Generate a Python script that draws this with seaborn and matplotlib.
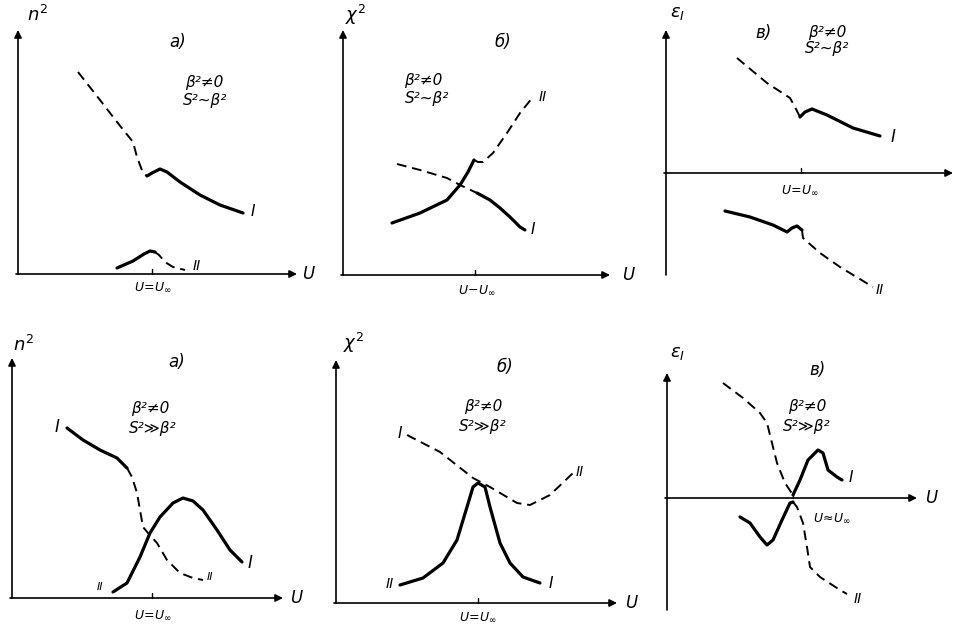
import numpy as np
import pandas as pd
import matplotlib
matplotlib.use("Agg")
import matplotlib.pyplot as plt
import seaborn as sns

sns.set_theme(style="white")
plt.rcParams['font.family'] = ['DejaVu Sans']
plt.rcParams['mathtext.fontset'] = 'dejavusans'
plt.rcParams['text.color'] = 'black'

W, H = 962, 631

# ---------------- data (U axis, value axis; arbitrary schematic units) ----------------
# Panel a) top : n^2, beta^2 != 0, S^2 ~ beta^2
p1_I_dash_u = [60, 82, 99, 115, 119, 125, 129]
p1_I_dash_v = [202, 174, 152, 132, 117, 101, 98]
p1_I_sol_u = [129, 134, 142, 149, 162, 182, 202, 225]
p1_I_sol_v = [98, 101, 105, 102, 92, 79, 69, 61]
p1_II_sol_u = [99, 115, 126, 132, 137]
p1_II_sol_v = [6, 13, 20, 23, 22]
p1_II_dash_u = [137, 141, 147, 155, 167]
p1_II_dash_v = [22, 19, 12, 7, 4]

# Panel б) top : chi^2
p2_I_dash_u = [54, 77, 104, 117, 134]
p2_I_dash_v = [111, 105, 97, 90, 82]
p2_I_sol_u = [134, 147, 157, 167, 177, 182]
p2_I_sol_v = [82, 75, 67, 58, 48, 45]
p2_II_sol_u = [49, 77, 104, 117, 125, 131]
p2_II_sol_v = [52, 62, 75, 90, 103, 115]
p2_II_dash_u = [131, 135, 140, 150, 164, 177, 190]
p2_II_dash_v = [115, 113, 113, 122, 142, 162, 178]

# Panel в) top : eps_I
p3_I_dash_u = [71, 101, 124, 129, 134]
p3_I_dash_v = [115, 90, 75, 66, 56]
p3_I_sol_u = [134, 139, 146, 161, 187, 214]
p3_I_sol_v = [56, 61, 64, 58, 45, 37]
p3_II_sol_u = [59, 84, 107, 121, 126, 131, 136]
p3_II_sol_v = [-38, -44, -52, -59, -55, -53, -57]
p3_II_dash_u = [136, 137, 154, 174, 207]
p3_II_dash_v = [-57, -65, -80, -94, -114]

# Panel a) bottom : n^2, S^2 >> beta^2
p4_A_sol_u = [55, 71, 88, 105, 115]
p4_A_sol_v = [170, 158, 148, 140, 130]
p4_A_dash_u = [115, 120, 125, 128, 131, 136, 145, 155, 168, 181, 191]
p4_A_dash_v = [130, 121, 105, 88, 71, 65, 55, 38, 25, 20, 18]
p4_B_sol_u = [101, 115, 128, 138, 148, 161, 171, 181, 191, 205, 218, 230]
p4_B_sol_v = [6, 15, 41, 65, 81, 95, 100, 97, 88, 68, 48, 36]

# Panel б) bottom : chi^2
p5_A_dash_u = [71, 104, 137, 154, 181, 194, 214, 237]
p5_A_dash_v = [168, 151, 125, 116, 100, 98, 108, 130]
p5_B_sol_u = [64, 87, 107, 121, 131, 137, 142, 149, 154, 164, 174, 187, 204]
p5_B_sol_v = [18, 25, 40, 63, 96, 116, 120, 116, 96, 60, 40, 26, 20]

# Panel в) bottom : eps_I
p6_A_dash_u = [56, 76, 93, 100, 105, 110, 118, 126]
p6_A_dash_v = [115, 100, 85, 75, 55, 35, 15, 3]
p6_A_sol_u = [126, 133, 141, 151, 156, 161, 170, 175]
p6_A_sol_v = [3, 18, 38, 48, 45, 28, 21, 18]
p6_B_sol_u = [73, 83, 93, 100, 106, 115, 123, 126]
p6_B_sol_v = [-19, -25, -39, -47, -42, -22, -5, -4]
p6_B_dash_u = [126, 130, 136, 140, 143, 153, 173, 180]
p6_B_dash_v = [-4, -9, -25, -49, -69, -79, -92, -96]

panel_letters = ["a)", "б)", "в)", "a)", "б)", "в)"]
y_labels = [r"$n^2$", r"$\chi^2$", r"$\varepsilon_{I}$", r"$n^2$", r"$\chi^2$", r"$\varepsilon_{I}$"]
cond_top = ["β²≠0", "β²≠0", "β²≠0", "β²≠0", "β²≠0", "β²≠0"]
cond_bot = ["S²~β²", "S²~β²", "S²~β²", "S²≫β²", "S²≫β²", "S²≫β²"]
tick_labels = [r"$U\!=\!U_{\infty}$", r"$U\!-\!U_{\infty}$", r"$U\!=\!U_{\infty}$",
               r"$U\!=\!U_{\infty}$", r"$U\!=\!U_{\infty}$", r"$U\!\approx\!U_{\infty}$"]

# ---------------- layout (pixel geometry of each panel) ----------------
boxes = [(0, 0, 320, 300), (320, 0, 640, 300), (640, 0, 962, 300),
         (0, 300, 320, 631), (320, 300, 640, 631), (640, 300, 962, 631)]
origins = [(18, 274), (343, 275), (666, 173), (12, 598), (336, 603), (667, 498)]
xends = [279, 267, 287, 271, 281, 250]
ytops = [244, 245, 143, 240, 243, 125]
ybots = [0, 0, -102, 0, 0, -112]
tick_u = [134, 132, 135, 140, 142, 126]
tick_lab_pos = [(135, -13), (134, -15), (134, -17), (141, -17), (142, -14), (165, -20)]
ylab_pos = [(9, 259), (2, 260), (4, 160), (1, 253), (7, 260), (3, 145)]
ulab_pos = [(284, 0), (279, 0), None, (278, 0), (289, 0), (258, 0)]
letter_pos = [(160, 232), (160, 233), (97, 140), (165, 236), (169, 236), (150, 128)]
cond_pos = [(186, 192, 187, 173), (80, 194, 84, 176), (161, 141, 161, 124),
            (138, 189, 141, 169), (147, 197, 147, 176), (140, 92, 140, 72)]

fig = plt.figure(figsize=(W / 100, H / 100), dpi=100)
fig.patch.set_facecolor("white")

SOLID_LW = 2.3
DASH_LW = 1.4
DASH = (0, (5, 3))


def draw(ax, u, v, dashed):
    df = pd.DataFrame({"U": u, "val": v})
    if dashed:
        sns.lineplot(data=df, x="U", y="val", ax=ax, sort=False, estimator=None,
                     color="black", lw=DASH_LW, linestyle=DASH)
    else:
        sns.lineplot(data=df, x="U", y="val", ax=ax, sort=False, estimator=None,
                     color="black", lw=SOLID_LW, solid_capstyle="round",
                     solid_joinstyle="round")


axes = []
for i, (box, org) in enumerate(zip(boxes, origins)):
    l, t, r, b = box
    ox, oy = org
    ax = fig.add_axes([l / W, 1 - b / H, (r - l) / W, (b - t) / H])
    ax.set_xlim(l - ox, r - ox)
    ax.set_ylim(oy - b, oy - t)
    ax.axis("off")
    ax.annotate("", xy=(xends[i], 0), xytext=(-2, 0),
                arrowprops=dict(arrowstyle="-|>", lw=1.2, color="black", mutation_scale=11,
                                shrinkA=0, shrinkB=0))
    ax.annotate("", xy=(0, ytops[i]), xytext=(0, ybots[i]),
                arrowprops=dict(arrowstyle="-|>", lw=1.2, color="black", mutation_scale=11,
                                shrinkA=0, shrinkB=0))
    ax.plot([tick_u[i], tick_u[i]], [0, 5], color="black", lw=1.0)
    ax.text(*tick_lab_pos[i], tick_labels[i], fontsize=9, ha="center", va="center",
            style="italic")
    ax.text(*ylab_pos[i], y_labels[i], fontsize=13, ha="left", va="center")
    if ulab_pos[i] is not None:
        ax.text(*ulab_pos[i], "U", fontsize=12, ha="left", va="center", style="italic")
    ax.text(*letter_pos[i], panel_letters[i], fontsize=12, ha="center", va="center",
            style="italic")
    cx1, cy1, cx2, cy2 = cond_pos[i]
    ax.text(cx1, cy1, cond_top[i], fontsize=11, ha="center", va="center", style="italic")
    ax.text(cx2, cy2, cond_bot[i], fontsize=11, ha="center", va="center", style="italic")
    axes.append(ax)

ax1, ax2, ax3, ax4, ax5, ax6 = axes

draw(ax1, p1_I_dash_u, p1_I_dash_v, True)
draw(ax1, p1_I_sol_u, p1_I_sol_v, False)
draw(ax1, p1_II_sol_u, p1_II_sol_v, False)
draw(ax1, p1_II_dash_u, p1_II_dash_v, True)
ax1.text(235, 62, "I", fontsize=11, ha="center", va="center", style="italic")
ax1.text(179, 8, "II", fontsize=10, ha="center", va="center", style="italic")

draw(ax2, p2_I_dash_u, p2_I_dash_v, True)
draw(ax2, p2_I_sol_u, p2_I_sol_v, False)
draw(ax2, p2_II_sol_u, p2_II_sol_v, False)
draw(ax2, p2_II_dash_u, p2_II_dash_v, True)
ax2.text(190, 45, "I", fontsize=11, ha="center", va="center", style="italic")
ax2.text(200, 178, "II", fontsize=10, ha="center", va="center", style="italic")

draw(ax3, p3_I_dash_u, p3_I_dash_v, True)
draw(ax3, p3_I_sol_u, p3_I_sol_v, False)
draw(ax3, p3_II_sol_u, p3_II_sol_v, False)
draw(ax3, p3_II_dash_u, p3_II_dash_v, True)
ax3.text(227, 36, "I", fontsize=12, ha="center", va="center", style="italic")
ax3.text(214, -117, "II", fontsize=10, ha="center", va="center", style="italic")

draw(ax4, p4_A_sol_u, p4_A_sol_v, False)
draw(ax4, p4_A_dash_u, p4_A_dash_v, True)
draw(ax4, p4_B_sol_u, p4_B_sol_v, False)
ax4.text(45, 171, "I", fontsize=12, ha="center", va="center", style="italic")
ax4.text(198, 21, "II", fontsize=8, ha="center", va="center", style="italic")
ax4.text(88, 11, "II", fontsize=8, ha="center", va="center", style="italic")
ax4.text(238, 35, "I", fontsize=12, ha="center", va="center", style="italic")

draw(ax5, p5_A_dash_u, p5_A_dash_v, True)
draw(ax5, p5_B_sol_u, p5_B_sol_v, False)
ax5.text(64, 169, "I", fontsize=11, ha="center", va="center", style="italic")
ax5.text(244, 131, "II", fontsize=10, ha="center", va="center", style="italic")
ax5.text(54, 19, "II", fontsize=10, ha="center", va="center", style="italic")
ax5.text(215, 19, "I", fontsize=11, ha="center", va="center", style="italic")

draw(ax6, p6_A_dash_u, p6_A_dash_v, True)
draw(ax6, p6_A_sol_u, p6_A_sol_v, False)
draw(ax6, p6_B_sol_u, p6_B_sol_v, False)
draw(ax6, p6_B_dash_u, p6_B_dash_v, True)
ax6.text(184, 20, "I", fontsize=11, ha="center", va="center", style="italic")
ax6.text(191, -101, "II", fontsize=10, ha="center", va="center", style="italic")

fig.savefig("out.png", dpi=100, facecolor="white")
